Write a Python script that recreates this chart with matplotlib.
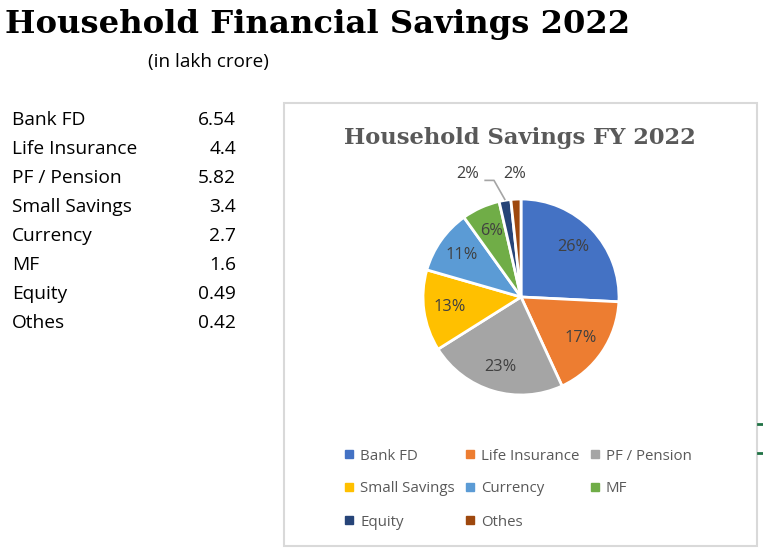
import numpy as np
import matplotlib
matplotlib.use("Agg")
import matplotlib.pyplot as plt
from matplotlib.lines import Line2D
from matplotlib.patches import Rectangle

categories = ["Bank FD", "Life Insurance", "PF / Pension", "Small Savings",
              "Currency", "MF", "Equity", "Othes"]
values = [6.54, 4.4, 5.82, 3.4, 2.7, 1.6, 0.49, 0.42]
value_labels = ["6.54", "4.4", "5.82", "3.4", "2.7", "1.6", "0.49", "0.42"]
colors = ["#4472C4", "#ED7D31", "#A5A5A5", "#FFC000",
          "#5B9BD5", "#70AD47", "#264478", "#9E480E"]

W, H = 763, 552
SANS = "Open Sans"
SLAB = "DejaVu Serif"

def fx(x):
    return x / W

def fy(y):
    return 1 - y / H

fig = plt.figure(figsize=(W / 100, H / 100), dpi=100)

# page title + unit
fig.text(fx(5), fy(24), "Household Financial Savings 2022", family=SLAB,
         weight="bold", size=23.2, color="black", va="center", ha="left")
fig.text(fx(148), fy(62), "(in lakh crore)", family=SANS, size=13.6,
         color="black", va="center", ha="left")

# data table on the left
for i, (c, v) in enumerate(zip(categories, value_labels)):
    y = 120 + 29 * i
    fig.text(fx(12), fy(y), c, family=SANS, size=13.8, va="center", ha="left")
    fig.text(fx(236), fy(y), v, family=SANS, size=13.8, va="center", ha="right")

# chart frame
fig.patches.append(Rectangle((fx(284), fy(546)), fx(757) - fx(284), fy(103) - fy(546),
                             transform=fig.transFigure, fill=False,
                             edgecolor="#D9D9D9", linewidth=1.5))
fig.text(fx(520), fy(138), "Household Savings FY 2022", family=SLAB,
         weight="bold", size=16.3, color="#595959", ha="center", va="center")

# stray green cell marks at the right edge
for yy in (424, 453):
    fig.add_artist(Line2D([fx(758), fx(763)], [fy(yy), fy(yy)],
                          transform=fig.transFigure, color="#217346", lw=2))

# pie
cx, cy, r = 521, 297, 98
ax = fig.add_axes([fx(cx - r), fy(cy + r), 2 * r / W, 2 * r / H])
total = sum(values)
pcts = [v / total * 100 for v in values]
wedges, _ = ax.pie(values, colors=colors, startangle=90, counterclock=False,
                   wedgeprops=dict(edgecolor="white", linewidth=2))
ax.set_xlim(-1, 1)
ax.set_ylim(-1, 1)
ax.axis("off")

for w, p in zip(wedges, pcts):
    mid = np.deg2rad((w.theta1 + w.theta2) / 2)
    lab = f"{p:.0f}%"
    if p >= 5:
        ax.text(0.74 * np.cos(mid), 0.74 * np.sin(mid), lab, family=SANS,
                size=11.8, color="#404040", ha="center", va="center")

# small slices: labels outside
eq, ot = wedges[6], wedges[7]
m_ot = np.deg2rad((ot.theta1 + ot.theta2) / 2)
ax.text(1.255 * np.cos(m_ot), 1.255 * np.sin(m_ot), f"{pcts[7]:.0f}%",
        family=SANS, size=11.8, color="#404040", ha="center", va="center",
        clip_on=False)
m_eq = np.deg2rad((eq.theta1 + eq.theta2) / 2)
x0, y0 = 1.01 * np.cos(m_eq), 1.01 * np.sin(m_eq)
xe, ye = x0 - 0.11, 1.19
ax.plot([x0, xe, xe - 0.09], [y0, ye, ye], color="#A5A5A5", lw=1.2,
        clip_on=False)
ax.text(xe - 0.15, 1.255, f"{pcts[6]:.0f}%", family=SANS, size=11.8,
        color="#404040", ha="right", va="center", clip_on=False)

# legend, row-wise like Excel
order = [0, 3, 6, 1, 4, 7, 2, 5]
handles = [Line2D([], [], marker="s", ls="", color=colors[i], markersize=6)
           for i in order]
fig.legend(handles, [categories[i] for i in order], ncol=3,
           loc="upper left", bbox_to_anchor=(fx(337), fy(441)),
           frameon=False, handlelength=0.6, handletextpad=0.45,
           columnspacing=0.7, labelspacing=1.2, borderpad=0,
           prop=dict(family=SANS, size=10.8), labelcolor="#595959")

fig.savefig("out.png", dpi=100)
